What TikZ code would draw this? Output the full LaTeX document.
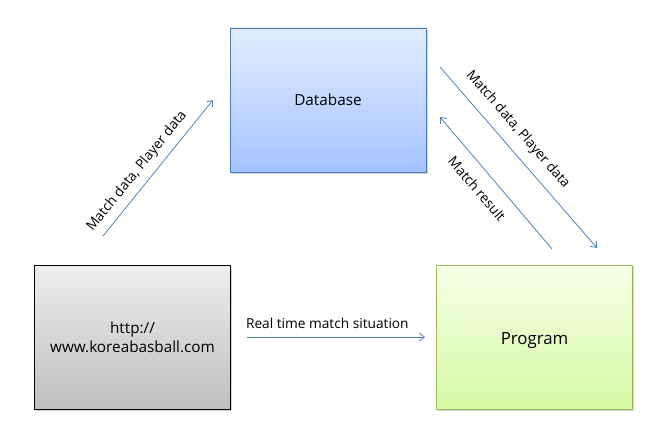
\documentclass[tikz,border=0pt]{standalone}
\usepackage{fontspec}
\setmainfont{Open Sans}
\usetikzlibrary{positioning,calc}
\usetikzlibrary{arrows.meta,shadows}
\definecolor{DbTop}{RGB}{228,237,255}
\definecolor{DbBottom}{RGB}{163,195,255}
\definecolor{DbLine}{RGB}{74,126,187}
\definecolor{WebTop}{RGB}{238,238,238}
\definecolor{WebBottom}{RGB}{190,190,190}
\definecolor{PrgTop}{RGB}{246,255,232}
\definecolor{PrgBottom}{RGB}{214,249,164}
\definecolor{PrgLine}{RGB}{155,187,89}
\definecolor{FlowBlue}{RGB}{79,129,189}
\tikzset{
  box/.style={draw,line width=0.9pt,minimum width=196pt,minimum height=144pt,inner sep=0pt,
    align=center,font=\fontsize{15.3}{19}\selectfont,
    drop shadow={shadow xshift=1.5pt,shadow yshift=-2pt,opacity=0.35}},
  flow/.style={draw=FlowBlue,line width=0.8pt,-{Straight Barb[length=5pt,width=8pt]}},
  lab/.style={font=\fontsize{13.7}{16}\selectfont,sloped,inner sep=1pt},
}
\begin{document}
\begin{tikzpicture}[x=1pt,y=-1pt]
\useasboundingbox (0,0) rectangle (664,444);
\node[box,draw=DbLine,top color=DbTop,bottom color=DbBottom] (db) at (328,100) {Database};
\node[box,draw=black,top color=WebTop,bottom color=WebBottom] (web) at (132.5,337) {http://\\www.koreabasball.com};
\node[box,draw=PrgLine,top color=PrgTop,bottom color=PrgBottom,font=\fontsize{16.8}{20}\selectfont] (prog) at (534.5,337) {\raisebox{-4pt}[\height][\depth]{Program}};
\coordinate (a1) at (103,236);
\coordinate (a2) at (213,100);
\coordinate (b1) at (440,67);
\coordinate (b2) at (597,248);
\coordinate (c1) at (552,249);
\coordinate (c2) at (440,117);
\draw[flow] (a1) -- node[lab,above=6pt,pos=0.41] {Match data, Player data} (a2);
\draw[flow] (b1) -- node[lab,above=9.5pt,pos=0.41] {Match data, Player data} (b2);
\draw[flow] (c1) -- node[lab,below=11.5pt,pos=0.545] {Match result} (c2);
\draw[flow,shorten <=16pt,shorten >=11pt] (web.east) -- node[lab,above=6.5pt,pos=0.47] {Real time match situation} (prog.west);
\end{tikzpicture}
\end{document}
